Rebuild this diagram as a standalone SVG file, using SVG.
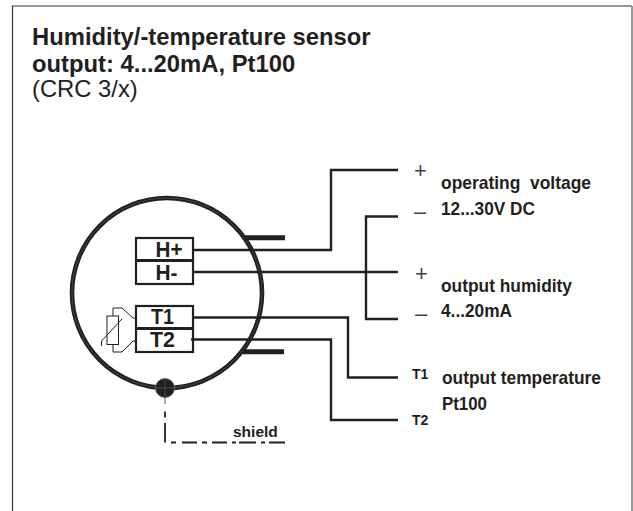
<svg xmlns="http://www.w3.org/2000/svg" width="633" height="511" viewBox="0 0 633 511">
<style>
text{font-family:"Liberation Sans",Arial,sans-serif;fill:#231f20}
.t{font-size:23.8px;font-weight:bold}
.r{font-size:23.8px}
.l{font-size:19px;font-weight:bold}
.s{font-size:14px;font-weight:bold}
.h{font-size:15.500px;font-weight:bold}
.n{font-size:22px;font-weight:bold}
.p{font-size:22px;fill:#444}
.w{fill:none;stroke:#231f20;stroke-width:2.4}
.f{fill:none;stroke:#231f20;stroke-width:1}
</style>
<rect width="633" height="511" fill="#fff"/>
<path d="M12.500 511V6H632" fill="none" stroke="#333" stroke-width="1.200"/>
<path d="M632 6V511" fill="none" stroke="#999" stroke-width="2"/>
<g id="title">
<text class="t" x="32" y="45">Humidity/-temperature sensor</text>
<text class="t" x="32" y="71.500">output: 4...20mA, Pt100</text>
<text class="r" x="32" y="97">(CRC 3/x)</text>
</g>
<g id="sensor">
<circle cx="167" cy="293" r="95" fill="none" stroke="#231f20" stroke-width="4.600"/>
<circle cx="167" cy="293" r="95" fill="none" stroke="#666" stroke-width="0.500"/>
<path d="M245 237.700H285M243 351.700H284" stroke="#231f20" stroke-width="5" fill="none"/>
<circle cx="165" cy="388" r="9.500" fill="#231f20" stroke="#666" stroke-width="1"/>
<path d="M155.500 388H174.500M165 378.500V397.500" stroke="#666" stroke-width="0.500"/>
</g>
<g id="terminal-h">
<rect x="136" y="238" width="57" height="46" fill="#fff" stroke="#231f20" stroke-width="2.200"/>
<path d="M136 260.500H193" stroke="#231f20" stroke-width="2.800"/>
<text class="n" x="155.500" y="257" textLength="27" lengthAdjust="spacingAndGlyphs">H+</text>
<text class="n" x="155.500" y="279.500" textLength="22" lengthAdjust="spacingAndGlyphs">H-</text>
</g>
<g id="terminal-t">
<rect x="136" y="306" width="57" height="46" fill="#fff" stroke="#231f20" stroke-width="2.200"/>
<path d="M136 328.500H193" stroke="#231f20" stroke-width="2.800"/>
<text class="n" x="151" y="324" textLength="23" lengthAdjust="spacingAndGlyphs">T1</text>
<text class="n" x="150" y="347" textLength="25" lengthAdjust="spacingAndGlyphs">T2</text>
</g>
<g id="pt100">
<rect x="107" y="316" width="11.500" height="28.500" class="f"/>
<path class="f" d="M101.500 346V341L122 319"/>
<path class="f" d="M113 316V308H122L133 318H136M113 344.500V352H122L133 341H136"/>
</g>
<g id="connectors">
<path class="w" d="M193 250H331V170H398"/>
<path class="w" d="M193 272H398"/>
<path class="w" d="M398 216.500H366V319H398"/>
<path class="w" d="M193 317.500H348V377.500H398"/>
<path class="w" d="M191 339.500H331V420H398"/>
<path d="M165 397V404" stroke="#555" stroke-width="1"/>
<path d="M165 411.500V417.500M165 423V442.500M171 442.500H176M182 442.500H197M202 442.500H207M212 442.500H227M232 442.500H236M239 442.500H256M261 442.500H265M269 442.500H285" fill="none" stroke="#231f20" stroke-width="1.800"/>
</g>
<g id="labels">
<text class="p" x="414" y="178">+</text>
<text class="p" x="414" y="219">–</text>
<text class="p" x="415" y="281">+</text>
<text class="p" x="415" y="321">–</text>
<text class="l" x="441" y="189" textLength="150" lengthAdjust="spacingAndGlyphs" xml:space="preserve">operating  voltage</text>
<text class="l" x="441" y="215" textLength="94" lengthAdjust="spacingAndGlyphs">12...30V DC</text>
<text class="l" x="441" y="292" textLength="131" lengthAdjust="spacingAndGlyphs">output humidity</text>
<text class="l" x="441" y="317" textLength="71" lengthAdjust="spacingAndGlyphs">4...20mA</text>
<text class="l" x="442" y="384" textLength="159" lengthAdjust="spacingAndGlyphs">output temperature</text>
<text class="l" x="442" y="410" textLength="45" lengthAdjust="spacingAndGlyphs">Pt100</text>
<text class="s" x="412" y="379">T1</text>
<text class="s" x="412" y="425">T2</text>
<text class="h" x="233" y="437">shield</text>
</g>
</svg>
